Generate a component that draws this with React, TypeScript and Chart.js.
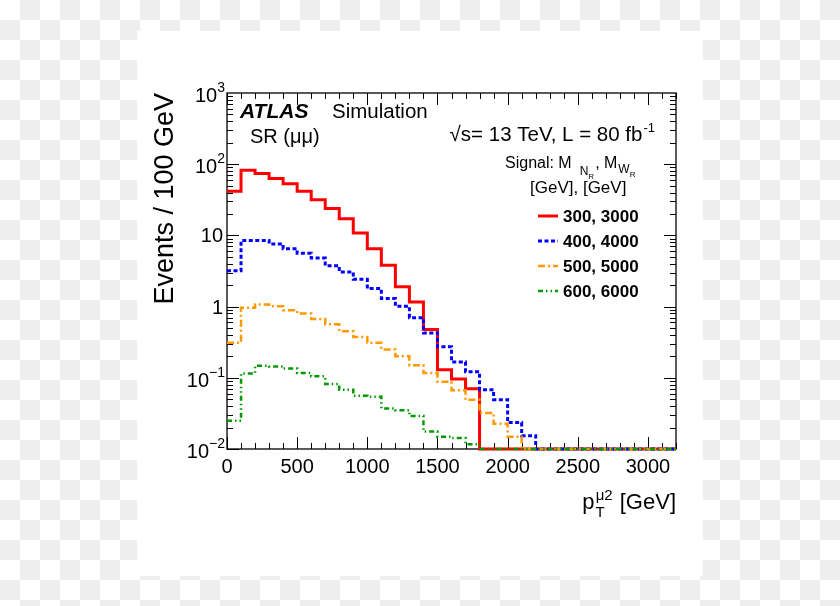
import React, { useEffect, useRef } from "react";
import { Chart, registerables } from "chart.js";

Chart.register(...registerables);

// ---------------- data ----------------
const BIN_WIDTH = 100; // GeV
const X_MIN = 0;
const X_MAX = 3200;
const Y_MIN = 0.01;
const Y_MAX = 1000;

const SERIES_LABELS = ["300, 3000", "400, 4000", "500, 5000", "600, 6000"];

// events per 100 GeV bin, starting at 0 GeV
const RED_300_3000 = [
  41.6, 82, 74, 63, 53, 41.6, 31.8, 23.8, 17.2, 10.8, 6.5, 3.8, 1.9, 1.16, 0.475, 0.13, 0.096, 0.07,
  0, 0, 0, 0, 0, 0, 0, 0, 0, 0, 0, 0, 0, 0,
];
const BLUE_400_4000 = [
  3.2, 8.5, 8.5, 7.6, 6.5, 5.6, 4.8, 3.76, 3.07, 2.42, 1.79, 1.3, 1.01, 0.7, 0.427, 0.273, 0.167,
  0.122, 0.068, 0.049, 0.0235, 0.0154, 0, 0, 0, 0, 0, 0, 0, 0, 0, 0,
];
const ORANGE_500_5000 = [
  0.31, 0.96, 1.07, 1.01, 0.89, 0.8, 0.67, 0.565, 0.45, 0.375, 0.31, 0.249, 0.2, 0.15, 0.117, 0.088,
  0.067, 0.049, 0.032, 0.0227, 0.0149, 0, 0, 0, 0, 0, 0, 0, 0, 0, 0, 0,
];
const GREEN_600_6000 = [
  0.025, 0.115, 0.148, 0.144, 0.135, 0.117, 0.105, 0.082, 0.068, 0.056, 0.054, 0.037, 0.035, 0.029,
  0.0176, 0.0149, 0.0143, 0.0117, 0, 0, 0, 0, 0, 0, 0, 0, 0, 0, 0, 0, 0, 0,
];

const X_TICK_VALUES = [0, 500, 1000, 1500, 2000, 2500, 3000];
const X_TICK_LABELS = ["0", "500", "1000", "1500", "2000", "2500", "3000"];
const Y_TICK_VALUES = [0.01, 0.1, 1, 10, 100, 1000];
const Y_TICK_BASES = ["10", "10", "1", "10", "10", "10"];
const Y_TICK_EXPS = ["\u22122", "\u22121", "", "", "2", "3"];

// ---------------- styles ----------------
const COLORS = ["#ff0000", "#0000ff", "#ff9900", "#009900"];
const DASHES: number[][] = [[], [4, 2.5], [7, 3, 2, 3], [5, 3, 1.5, 3, 1.5, 3]];
const WIDTHS = [3, 3, 2.5, 2.5];
const FONT = '"Liberation Sans", Arial, Helvetica, sans-serif';

function toSteps(values: number[]) {
  const pts = values.map((v, i) => ({ x: X_MIN + i * BIN_WIDTH, y: v > 0 ? v : Y_MIN }));
  const last = pts[pts.length - 1];
  pts.push({ x: X_MIN + values.length * BIN_WIDTH, y: last.y });
  return pts;
}

type Seg = { t: string; f: string; dy?: number; dx?: number };

function drawRich(ctx: CanvasRenderingContext2D, x: number, y: number, segs: Seg[], align: "left" | "right") {
  ctx.textAlign = "left";
  ctx.textBaseline = "alphabetic";
  let total = 0;
  const ws = segs.map((s) => {
    ctx.font = s.f;
    const w = ctx.measureText(s.t).width + (s.dx || 0);
    total += w;
    return w;
  });
  let cx = align === "right" ? x - total : x;
  segs.forEach((s, i) => {
    ctx.font = s.f;
    ctx.fillText(s.t, cx + (s.dx || 0), y + (s.dy || 0));
    cx += ws[i];
  });
}

const atlasPlugin = {
  id: "atlasDecor",
  beforeDraw(chart: any) {
    const ctx: CanvasRenderingContext2D = chart.ctx;
    ctx.save();
    const W = chart.width;
    const H = chart.height;
    const S = 20;
    for (let r = 0; r * S < H; r++) {
      for (let c = 0; c * S < W; c++) {
        ctx.fillStyle = (r + c) % 2 === 1 ? "#eeeeee" : "#ffffff";
        ctx.fillRect(c * S, r * S, S, S);
      }
    }
    ctx.fillStyle = "#ffffff";
    ctx.fillRect(137, 31, 566, 545);
    ctx.restore();
  },
  beforeDatasetsDraw(chart: any) {
    const ctx: CanvasRenderingContext2D = chart.ctx;
    const { left, right, top, bottom } = chart.chartArea;
    const xs = chart.scales.x;
    const ys = chart.scales.y;
    ctx.save();
    ctx.strokeStyle = "#000";
    ctx.lineWidth = 1.3;
    ctx.strokeRect(left, top, right - left, bottom - top);
    ctx.lineWidth = 1;
    ctx.beginPath();
    // x ticks
    for (let v = X_MIN; v <= X_MAX; v += BIN_WIDTH) {
      const px = Math.round(xs.getPixelForValue(v)) + 0.5;
      const len = v % 500 === 0 ? 12 : 6;
      ctx.moveTo(px, bottom);
      ctx.lineTo(px, bottom - len);
      ctx.moveTo(px, top);
      ctx.lineTo(px, top + len);
    }
    // y ticks (log)
    for (let d = -2; d < 3; d++) {
      for (let m = 1; m <= 9; m++) {
        const v = m * Math.pow(10, d);
        const py = Math.round(ys.getPixelForValue(v)) + 0.5;
        const len = m === 1 ? 12 : 6;
        ctx.moveTo(left, py);
        ctx.lineTo(left + len, py);
        ctx.moveTo(right, py);
        ctx.lineTo(right - len, py);
      }
    }
    ctx.stroke();
    ctx.restore();
  },
  afterDraw(chart: any) {
    const ctx: CanvasRenderingContext2D = chart.ctx;
    const xs = chart.scales.x;
    const ys = chart.scales.y;
    const { left, right, top, bottom } = chart.chartArea;
    ctx.save();
    ctx.fillStyle = "#000";

    // x tick labels
    ctx.font = `20px ${FONT}`;
    ctx.textAlign = "center";
    ctx.textBaseline = "alphabetic";
    X_TICK_VALUES.forEach((v, i) => {
      ctx.fillText(X_TICK_LABELS[i], xs.getPixelForValue(v), bottom + 24);
    });

    // y tick labels
    Y_TICK_VALUES.forEach((v, i) => {
      const py = ys.getPixelForValue(v);
      const exp = Y_TICK_EXPS[i];
      if (exp) {
        drawRich(
          ctx,
          left - 2,
          py + 9,
          [
            { t: Y_TICK_BASES[i], f: `20px ${FONT}` },
            { t: exp, f: `14px ${FONT}`, dy: -10 },
          ],
          "right"
        );
      } else {
        drawRich(ctx, left - 4, py + 7, [{ t: Y_TICK_BASES[i], f: `20px ${FONT}` }], "right");
      }
    });

    // y title
    ctx.save();
    ctx.translate(173, top);
    ctx.rotate(-Math.PI / 2);
    ctx.font = `27px ${FONT}`;
    ctx.textAlign = "right";
    ctx.textBaseline = "alphabetic";
    ctx.fillText("Events / 100 GeV", 0, 0);
    ctx.restore();

    // x title
    drawRich(
      ctx,
      right,
      509,
      [
        { t: "p", f: `22px ${FONT}` },
        { t: "T", f: `15px ${FONT}`, dy: 8, dx: 1 },
        { t: "\u03bc2", f: `15px ${FONT}`, dy: -9, dx: -9 },
        { t: " [GeV]", f: `22px ${FONT}`, dx: 1 },
      ],
      "right"
    );

    // ATLAS Simulation
    drawRich(ctx, 240, 118, [{ t: "ATLAS", f: `italic bold 21px ${FONT}` }], "left");
    drawRich(ctx, 332, 118, [{ t: "Simulation", f: `20.5px ${FONT}` }], "left");
    drawRich(ctx, 250, 143, [{ t: "SR (\u03bc\u03bc)", f: `20px ${FONT}` }], "left");

    // sqrt(s)
    drawRich(
      ctx,
      655,
      141,
      [
        { t: "\u221As= 13 TeV, L = 80 fb", f: `20.5px ${FONT}` },
        { t: "-1", f: `13px ${FONT}`, dy: -9, dx: 1 },
      ],
      "right"
    );

    // Signal header
    drawRich(
      ctx,
      505,
      168,
      [
        { t: "Signal: M", f: `16px ${FONT}` },
        { t: "N", f: `12px ${FONT}`, dy: 7, dx: 8 },
        { t: "R", f: `8px ${FONT}`, dy: 11 },
        { t: ", M", f: `16px ${FONT}`, dx: 1 },
        { t: "W", f: `12px ${FONT}`, dy: 5, dx: 1 },
        { t: "R", f: `8px ${FONT}`, dy: 9 },
      ],
      "left"
    );
    drawRich(ctx, 530, 193, [{ t: "[GeV], [GeV]", f: `17px ${FONT}` }], "left");

    // legend
    const rows = [216, 241, 266, 291];
    SERIES_LABELS.forEach((lab, i) => {
      const y = rows[i];
      ctx.save();
      ctx.strokeStyle = COLORS[i];
      ctx.lineWidth = WIDTHS[i];
      ctx.setLineDash(DASHES[i]);
      ctx.beginPath();
      ctx.moveTo(538, y);
      ctx.lineTo(558, y);
      ctx.stroke();
      ctx.restore();
      ctx.fillStyle = "#000";
      drawRich(ctx, 563, y + 6, [{ t: lab, f: `bold 17px ${FONT}` }], "left");
    });
    ctx.restore();
  },
};

export default function App() {
  const ref = useRef<HTMLCanvasElement | null>(null);
  useEffect(() => {
    if (!ref.current) return;
    const series = [RED_300_3000, BLUE_400_4000, ORANGE_500_5000, GREEN_600_6000];
    const chart = new Chart(ref.current, {
      type: "line",
      data: {
        datasets: series.map((vals, i) => ({
          label: SERIES_LABELS[i],
          data: toSteps(vals),
          borderColor: COLORS[i],
          borderWidth: WIDTHS[i],
          borderDash: DASHES[i],
          stepped: true,
          fill: false,
          pointRadius: 0,
          clip: false as any,
          order: 4 - i,
        })),
      },
      options: {
        responsive: false,
        animation: false,
        events: [],
        layout: { padding: { left: 227, top: 93, right: 164, bottom: 157 } },
        scales: {
          x: { type: "linear", min: X_MIN, max: X_MAX, display: false },
          y: { type: "logarithmic", min: Y_MIN, max: Y_MAX, display: false },
        },
        plugins: { legend: { display: false }, tooltip: { enabled: false } },
      },
      plugins: [atlasPlugin],
    } as any);
    return () => chart.destroy();
  }, []);
  return (
    <div style={{ position: "absolute", left: 0, top: 0, width: 840, height: 606 }}>
      <canvas ref={ref} width={840} height={606} style={{ display: "block", width: 840, height: 606 }} />
    </div>
  );
}
